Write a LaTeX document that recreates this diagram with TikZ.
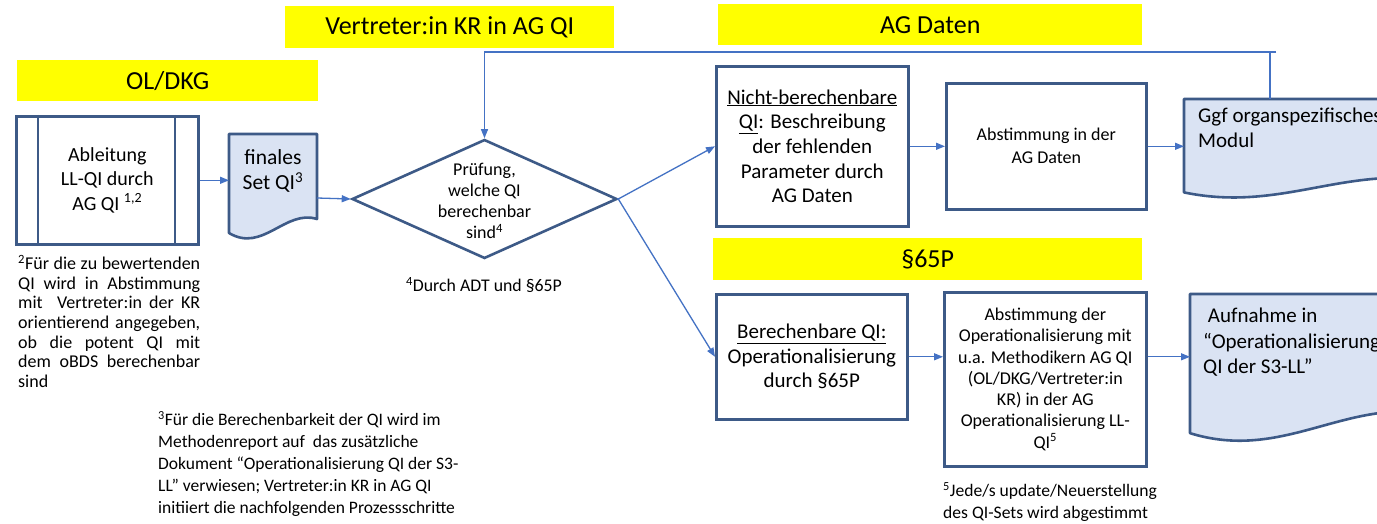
\documentclass[tikz,border=0pt]{standalone}
\usepackage{fontspec}
\setmainfont{Carlito}
\usetikzlibrary{shapes.geometric,arrows.meta}
\definecolor{bord}{RGB}{61,90,135}
\definecolor{connc}{RGB}{68,114,196}
\definecolor{docfill}{RGB}{218,227,243}
\definecolor{bannerc}{RGB}{255,255,0}
\newcommand{\fsz}[2]{\fontsize{#1pt}{#2pt}\selectfont}
\newcommand{\jline}[1]{\leavevmode\hbox to 182pt{\spaceskip=0.2em plus 1fil\relax #1}\\}
\newcommand{\docpath}[4]{(#1,#2) -- ({#1+#3},#2) -- ({#1+#3},{#2+0.802*#4}) .. controls ({#1+0.639*#3},{#2+0.708*#4}) and ({#1+0.383*#3},{#2+1.125*#4}) .. (#1,{#2+0.934*#4}) -- cycle}
\begin{document}
\begin{tikzpicture}[x=1pt,y=-1pt,
  banner/.style={fill=bannerc, draw=none, inner sep=0pt, anchor=north west, font=\fsz{26}{30}},
  box/.style={draw=bord, line width=2.6pt, fill=white, inner sep=0pt, align=center, anchor=north west},
  docshape/.style={draw=bord, line width=2.6pt, fill=docfill, line join=round},
  anchorbox/.style={inner sep=0pt, outer sep=0pt, anchor=north west},
  conn/.style={draw=connc, line width=1.3pt, -{Triangle[length=9pt,width=7pt]}},
  plain/.style={draw=connc, line width=1.3pt},
  note/.style={inner sep=0pt, font=\fsz{18}{19.6}}
]
\clip (0,0) rectangle (1377,524);
\fill[white] (0,0) rectangle (1377,524);

% banners
\node[banner, minimum width=301pt, minimum height=41pt] (bOL) at (17,60) {OL/DKG};
\node[banner, minimum width=329pt, minimum height=42pt] (bKR) at (285,6) {Vertreter:in KR in AG QI};
\node[banner, minimum width=424pt, minimum height=41pt] (bAG) at (718,4) {AG Daten};
\node[banner, minimum width=429pt, minimum height=42pt] (b65) at (713,238) {§65P};

% predefined process
\node[box, minimum width=182pt, minimum height=128pt, font=\fsz{20}{24.5}] (abl) at (15,115) {Ableitung\\LL-QI durch\\AG QI \textsuperscript{1,2}};
\draw[draw=bord, line width=2.6pt] (38,115) -- (38,243);
\draw[draw=bord, line width=2.6pt] (175,115) -- (175,243);

% finales doc
\node[anchorbox, minimum width=88pt, minimum height=106pt] (fin) at (229,134) {};
\draw[docshape] \docpath{229}{134}{88}{106};
\node[inner sep=0pt, align=center, font=\fsz{21.5}{25}] (fint) at (273,171) {finales\\Set QI\textsuperscript{3}};

% diamond
\node[diamond, draw=bord, line width=2.6pt, minimum width=265pt, minimum height=119pt, inner sep=0pt, fill=white] (d) at (484.5,199) {};
\node[inner sep=0pt, align=center, font=\fsz{18}{21}] (dt) at (484.5,201) {Prüfung,\\welche QI\\berechenbar\\sind\textsuperscript{4}};

% right boxes
\node[box, minimum width=192pt, minimum height=160pt, font=\fsz{21}{24.7}] (nb) at (715,65) {\underline{Nicht-berechenbare}\\\underline{QI}: Beschreibung\\der fehlenden\\Parameter durch\\AG Daten};
\node[box, minimum width=200pt, minimum height=126pt, font=\fsz{18}{23}] (ab) at (945,82) {Abstimmung in der\\AG Daten};
\node[box, minimum width=191pt, minimum height=125pt, font=\fsz{21}{24.5}] (bq) at (715,293) {\underline{Berechenbare QI:}\\Operationalisierung\\durch §65P};
\node[box, minimum width=202pt, minimum height=174pt, font=\fsz{18}{21.3}] (ao) at (943,291) {Abstimmung der\\Operationalisierung mit\\u.a. Methodikern AG QI\\(OL/DKG/Vertreter:in\\KR) in der AG\\Operationalisierung LL-\\QI\textsuperscript{5}};

% ggf doc
\node[anchorbox, minimum width=240pt, minimum height=100pt] (ggf) at (1184,99) {};
\draw[docshape] \docpath{1184}{99}{240}{100};
\node[inner sep=0pt, anchor=north west, align=left, font=\fsz{21}{25}] (ggft) at (1198,108) {Ggf organspezifisches\\Modul};

% Aufnahme doc
\node[anchorbox, minimum width=240pt, minimum height=149pt] (auf) at (1190,294) {};
\draw[docshape] \docpath{1190}{294}{240}{149};
\node[inner sep=0pt, anchor=north west, align=left, font=\fsz{21}{25.5}] (auft) at (1203,308) {\ Aufnahme in\\“Operationalisierung\\QI der S3-LL”};

% connectors
\draw[conn] (abl.east) -- (abl.east -| fin.west);
\draw[conn] ([yshift=-11pt]fin.east) -- (d.west);
\draw[conn, shorten <=-1pt] (d.east) -- (nb.west);
\draw[conn, shorten <=-1pt] (d.east) -- (bq.west);
\draw[conn] (nb.east) -- (nb.east -| ab.west);
\draw[conn] (ab.east) -- (ab.east -| ggf.west);
\draw[conn] (bq.east) -- (bq.east -| ao.west);
\draw[conn] (bq.east -| ao.east) -- (bq.east -| auf.west);
\coordinate (fbA) at (1270,52);
\coordinate (fbB) at (1276,52);
\draw[plain] (ggf.north -| fbA) -- (fbA);
\draw[conn] (fbB) -- (fbB -| d.north) -- (d.north);

% notes
\node[note, anchor=north west, text width=182pt, align=left] (n2) at (18,255) {%
\jline{\textsuperscript{2}Für die zu bewertenden}%
\jline{QI wird in Abstimmung}%
\jline{mit\ \ Vertreter:in der KR}%
\jline{orientierend angegeben,}%
\jline{ob die potent QI mit}%
\jline{dem oBDS berechenbar}%
sind};
\node[note, anchor=north west, align=left, font=\fsz{17.5}{22}] (n3) at (158,411) {\textsuperscript{3}Für die Berechenbarkeit der QI wird im\\Methodenreport auf\ \ das zusätzliche\\Dokument “Operationalisierung QI der S3-\\LL” verwiesen; Vertreter:in KR in AG QI\\initiiert die nachfolgenden Prozessschritte};
\node[note, anchor=center, font=\fsz{17.8}{21}] (n4) at (484,285) {\textsuperscript{4}Durch ADT und §65P};
\node[note, anchor=north west, align=left, font=\fsz{17.6}{22.5}] (n5) at (943,482) {\textsuperscript{5}Jede/s update/Neuerstellung\\des QI-Sets wird abgestimmt};
\end{tikzpicture}
\end{document}
